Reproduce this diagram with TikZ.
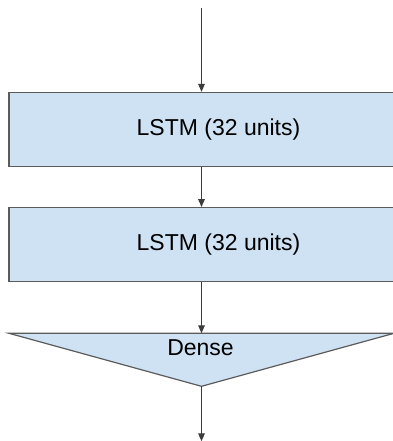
\documentclass[tikz,border=0pt]{standalone}
\usepackage{fontspec}
\setmainfont{Liberation Sans}
\usetikzlibrary{positioning}
\usetikzlibrary{arrows.meta, calc}
\definecolor{colLayer}{HTML}{CFE2F3}
\definecolor{strokeLayer}{HTML}{5B5B5B}
\definecolor{strokeArrow}{HTML}{3C3C3C}

\begin{document}
\begin{tikzpicture}[
				x=1pt, y=1pt,
				font=\fontsize{23}{27}\selectfont,
				% Node Styles
				layer/.style={draw=strokeLayer, fill=colLayer, line width=1.2pt, rectangle, minimum width=419pt, minimum height=74pt, inner sep=0pt},
				denseshape/.style={draw=strokeLayer, fill=colLayer, line width=1.2pt, line join=miter},
				arrow/.style={-{Triangle[width=6.5pt, length=8pt]}, line width=1.3pt, strokeArrow}
				]
				\useasboundingbox (0,0) rectangle (392,-441);
				
				%% ================= LAYERS =================
				\node[layer] (lstmA) at (218.5,-129.5) {LSTM (32 units)};
				\node[layer, below=40pt of lstmA] (lstmB) {LSTM (32 units)};
				
				% Main axis (arrows run here)
				\coordinate (inTop) at (201.5,-8);
				
				% Dense block (triangle)
				\coordinate[below=51pt of {inTop |- lstmB.south}] (denseTop);
				\coordinate (denseTip) at ($(denseTop)+(0,-53)$);
				\draw[denseshape] ($(denseTop)+(-192.5,0)$) -- ($(denseTop)+(192.5,0)$) -- (denseTip) -- cycle;
				\node (dense) at ($(denseTop)+(-1,-14)$) {Dense};
				
				\coordinate (outEnd) at ($(denseTip)+(0,-55)$);
				
				%% ================= EDGES =================
				\draw[arrow] (inTop) -- (inTop |- lstmA.north);
				\draw[arrow] (inTop |- lstmA.south) -- (inTop |- lstmB.north);
				\draw[arrow] (inTop |- lstmB.south) -- (denseTop);
				\draw[arrow] (denseTip) -- (outEnd);
				
			\end{tikzpicture}
\end{document}
